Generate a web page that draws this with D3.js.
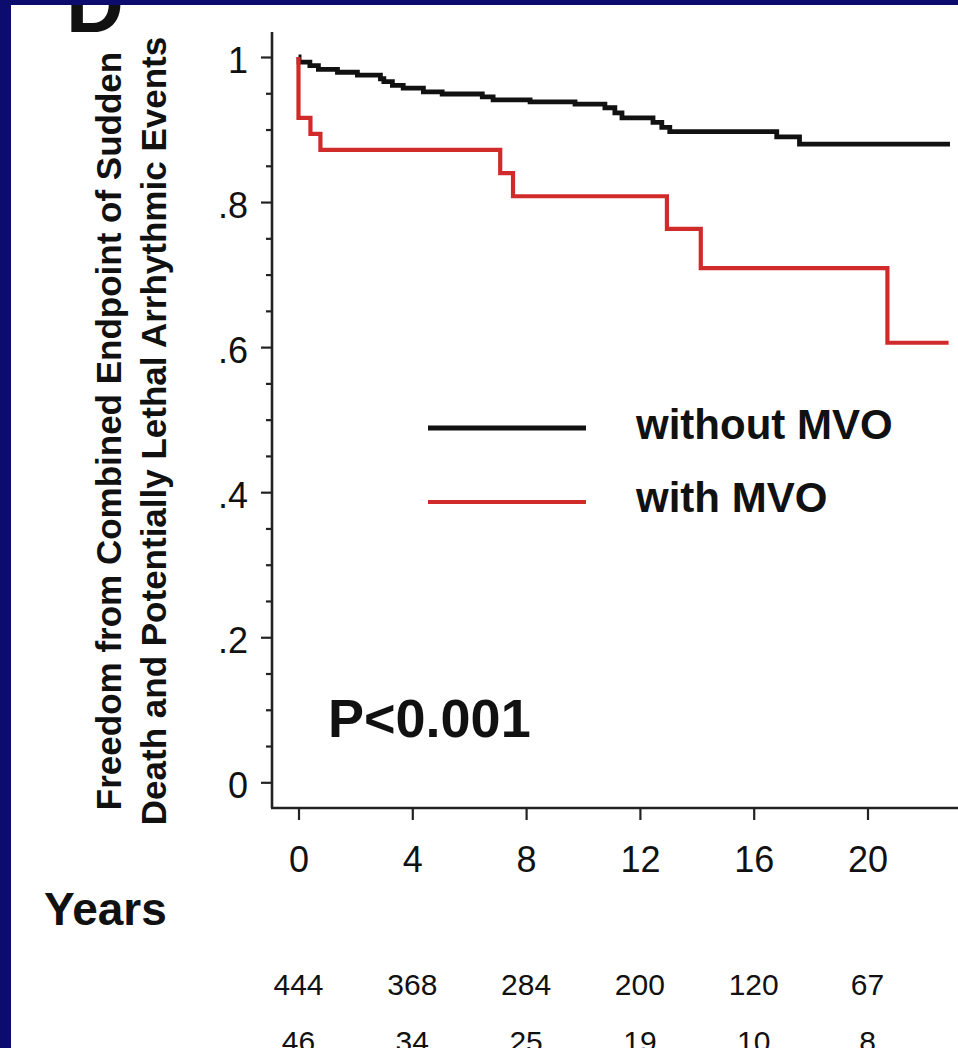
<!DOCTYPE html>
<html>
<head>
<meta charset="utf-8">
<script src="https://cdn.jsdelivr.net/npm/d3@7"></script>
<style>
  html, body { margin: 0; padding: 0; background: #ffffff; }
  svg { display: block; }
  text { font-family: "Liberation Sans", Arial, Helvetica, sans-serif; fill: #111; }
</style>
</head>
<body>
<svg id="chart" width="958" height="1048"></svg>
<script>
// Kaplan-Meier estimates: freedom from sudden death / potentially lethal arrhythmic events
const withoutTimes = [0, 0.02, 0.4, 0.7, 1.37, 2.07, 2.88, 3.0, 3.3, 3.68, 4.39, 5.05, 6.46, 6.84,
                      8.14, 9.72, 10.77, 11.12, 11.37, 12.46, 12.77, 13.05, 16.81, 17.61, 22.9];
const withoutSurv  = [1.0, 0.993, 0.988, 0.983, 0.979, 0.975, 0.970, 0.966, 0.961, 0.957, 0.952, 0.949, 0.945, 0.941,
                      0.938, 0.935, 0.930, 0.923, 0.916, 0.910, 0.903, 0.897, 0.890, 0.880, 0.880];

const withTimes = [0, 0, 0.42, 0.77, 7.09, 7.54, 12.95, 14.14, 20.7, 22.85];
const withSurv  = [1.0, 0.916, 0.894, 0.872, 0.840, 0.808, 0.763, 0.709, 0.606, 0.606];

// axis ticks and numbers at risk
const yearTicks = [0, 4, 8, 12, 16, 20];
const survTicks = [0, 0.2, 0.4, 0.6, 0.8, 1];
const survTickLabels = ["0", ".2", ".4", ".6", ".8", "1"];
const atRiskWithout = [444, 368, 284, 200, 120, 67];
const atRiskWith = [46, 34, 25, 19, 10, 8];

const seriesNames = ["without MVO", "with MVO"];
const seriesColors = ["#111111", "#d12a2a"];

const svg = d3.select("#chart");
const W = 958, H = 1048;

// panel background and navy frame
svg.append("rect").attr("x", 0).attr("y", 0).attr("width", W).attr("height", H).attr("fill", "#ffffff");

// panel letter, partly hidden under the frame
svg.append("text").attr("x", 66).attr("y", 32)
  .attr("font-size", 80).attr("font-weight", "bold").text("D");

svg.append("rect").attr("x", 0).attr("y", 0).attr("width", 11).attr("height", H).attr("fill", "#0c0c6e");
svg.append("rect").attr("x", 0).attr("y", 0).attr("width", W).attr("height", 5).attr("fill", "#0c0c6e");

// scales
const x = d3.scaleLinear().domain([0, 20]).range([298.5, 867.5]);
const y = d3.scaleLinear().domain([0, 1]).range([782.3, 57]);

const frame = { left: 272, right: 958, top: 32, bottom: 808 };

// axis lines (offset from the data region)
svg.append("line").attr("x1", frame.left).attr("x2", frame.left)
  .attr("y1", frame.top).attr("y2", frame.bottom)
  .attr("stroke", "#222").attr("stroke-width", 2.6);
svg.append("line").attr("x1", frame.left - 1).attr("x2", frame.right)
  .attr("y1", frame.bottom).attr("y2", frame.bottom)
  .attr("stroke", "#222").attr("stroke-width", 2.6);

// y axis: major ticks with labels
const yAxis = d3.axisLeft(y)
  .tickValues(survTicks)
  .tickSize(11)
  .tickPadding(13)
  .tickFormat((d, i) => survTickLabels[i]);
const gy = svg.append("g").attr("transform", `translate(${frame.left},0)`).call(yAxis);
gy.select(".domain").remove();
gy.selectAll(".tick line").attr("stroke", "#222").attr("stroke-width", 2.2);
gy.selectAll(".tick text")
  .attr("font-size", 36).attr("fill", "#111")
  .attr("font-family", "Liberation Sans, Arial, sans-serif")
  .attr("dy", "0.42em");

// y axis: minor ticks every 0.05
const minorVals = d3.range(0, 21).map(i => i * 0.05).filter((v, i) => i % 4 !== 0);
const yMinor = d3.axisLeft(y).tickValues(minorVals).tickSize(6).tickFormat("");
const gym = svg.append("g").attr("transform", `translate(${frame.left},0)`).call(yMinor);
gym.select(".domain").remove();
gym.selectAll(".tick line").attr("stroke", "#222").attr("stroke-width", 2.2);

// x axis
const xAxis = d3.axisBottom(x)
  .tickValues(yearTicks)
  .tickSize(12)
  .tickPadding(26)
  .tickFormat(d3.format("d"));
const gx = svg.append("g").attr("transform", `translate(0,${frame.bottom})`).call(xAxis);
gx.select(".domain").remove();
gx.selectAll(".tick line").attr("stroke", "#222").attr("stroke-width", 2.2);
gx.selectAll(".tick text")
  .attr("font-size", 36).attr("fill", "#111")
  .attr("font-family", "Liberation Sans, Arial, sans-serif")
  .attr("dy", "0.71em");

// survival curves
const stepLine = d3.line()
  .x(d => x(d[0]))
  .y(d => y(d[1]))
  .curve(d3.curveStepAfter);

const curves = [
  { pts: d3.zip(withoutTimes, withoutSurv), color: seriesColors[0], width: 4.8 },
  { pts: d3.zip(withTimes, withSurv), color: seriesColors[1], width: 4.2 }
];
svg.append("g").selectAll("path").data(curves).join("path")
  .attr("d", d => stepLine(d.pts))
  .attr("fill", "none")
  .attr("stroke", d => d.color)
  .attr("stroke-width", d => d.width)
  .attr("stroke-linejoin", "miter");

// legend
const legendRows = [
  { name: seriesNames[0], color: seriesColors[0], width: 4.8, ly: 428, ty: 439 },
  { name: seriesNames[1], color: seriesColors[1], width: 4.2, ly: 502, ty: 512 }
];
const lg = svg.append("g");
lg.selectAll("line").data(legendRows).join("line")
  .attr("x1", 428).attr("x2", 586)
  .attr("y1", d => d.ly).attr("y2", d => d.ly)
  .attr("stroke", d => d.color).attr("stroke-width", d => d.width);
lg.selectAll("text").data(legendRows).join("text")
  .attr("x", 636).attr("y", d => d.ty)
  .attr("font-size", 42).attr("font-weight", "bold")
  .text(d => d.name);

// log-rank p value
svg.append("text").attr("x", 328).attr("y", 737)
  .attr("font-size", 54).attr("font-weight", "bold").text("P<0.001");

// y axis title (two lines)
const yTitle = ["Freedom from Combined Endpoint of Sudden",
                "Death and Potentially Lethal Arrhythmic Events"];
svg.append("g").selectAll("text").data(yTitle).join("text")
  .attr("transform", (d, i) => `translate(${121 + i * 45},431) rotate(-90)`)
  .attr("text-anchor", "middle")
  .attr("font-size", 35).attr("font-weight", "bold")
  .text(d => d);

// x axis title
svg.append("text").attr("x", 44).attr("y", 925)
  .attr("font-size", 46).attr("font-weight", "bold").text("Years");

// numbers at risk
const riskRows = [
  { vals: atRiskWithout, by: 995 },
  { vals: atRiskWith, by: 1052 }
];
riskRows.forEach(row => {
  svg.append("g").selectAll("text").data(yearTicks).join("text")
    .attr("x", d => x(d))
    .attr("y", row.by)
    .attr("text-anchor", "middle")
    .attr("font-size", 30)
    .text((d, i) => row.vals[i]);
});
</script>
</body>
</html>
